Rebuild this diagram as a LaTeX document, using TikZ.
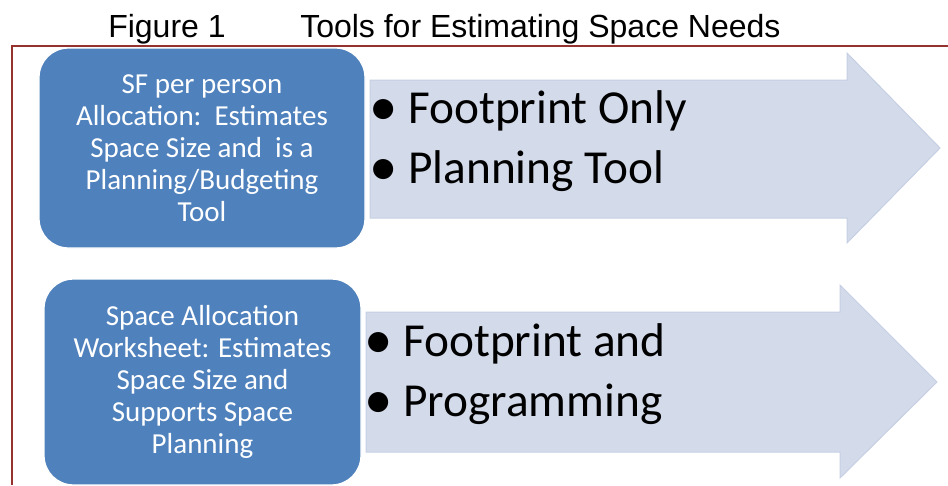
\documentclass[tikz,border=0pt]{standalone}
\usepackage{fontspec}
\setmainfont{Carlito}
\newfontfamily\arialfont{Liberation Sans}
\usetikzlibrary{positioning}
\definecolor{boxblue}{RGB}{79,129,189}
\definecolor{arrowfill}{RGB}{211,218,234}
\definecolor{arrowline}{RGB}{198,207,227}
\definecolor{framered}{RGB}{150,50,45}
\tikzset{
        tool/.style={rounded corners=22pt,fill=boxblue,draw=white,line width=1pt,
                     text=white,align=center,inner sep=0pt,
                     font=\fontsize{21.75}{24}\selectfont},
        bigarrow/.style={fill=arrowfill,draw=arrowline,line width=0.75pt},
        points/.style={align=left,anchor=west,inner sep=0pt,
                       font=\fontsize{35.5}{45}\selectfont},
        caption/.style={anchor=base west,inner sep=0pt,
                        font=\arialfont\fontsize{24}{28}\selectfont}
    }
\newcommand{\bitem}{\raisebox{-1.5pt}{\scalebox{1.2}{\textbullet}}\hspace{8pt}}

\begin{document}
\begin{tikzpicture}[x=0.75pt,y=-0.75pt]
                    \useasboundingbox (0,0) rectangle (948,485);

                    % caption
                    \node[caption] (fignum) at (108,38) {Figure 1};
                    \node[caption] (figtitle) at (300,38) {Tools for Estimating Space Needs};

                    % frame lines
                    \draw[framered,line width=1.5pt] (12,485) -- (12,46) -- (948,46);

                    % arrows
                    \draw[bigarrow] (370,80) -- (847,80) -- (847,53) -- (940,148) -- (847,243) -- (847,218) -- (370,218) -- cycle;
                    \draw[bigarrow] (366,312) -- (840,312) -- (840,285) -- (937,382) -- (840,478) -- (840,452) -- (366,452) -- cycle;

                    % tools
                    \node[tool,minimum width=244.5pt,minimum height=150pt] (sfperson) at (202,148)
                        {SF per person\\Allocation:\ \ Estimates\\Space Size and\ \ is a\\Planning/Budgeting\\Tool};
                    \node[tool,minimum width=237.75pt,minimum height=154.5pt] (worksheet) at (202.5,382)
                        {Space Allocation\\Worksheet: Estimates\\Space Size and\\Supports Space\\Planning};

                    % what each gives
                    \node[points] (sfpoints) at (369,141) {\bitem Footprint Only\\\bitem Planning Tool};
                    \node[points] (wspoints) at (364,374) {\bitem Footprint and\\\bitem Programming};
            \end{tikzpicture}
\end{document}
